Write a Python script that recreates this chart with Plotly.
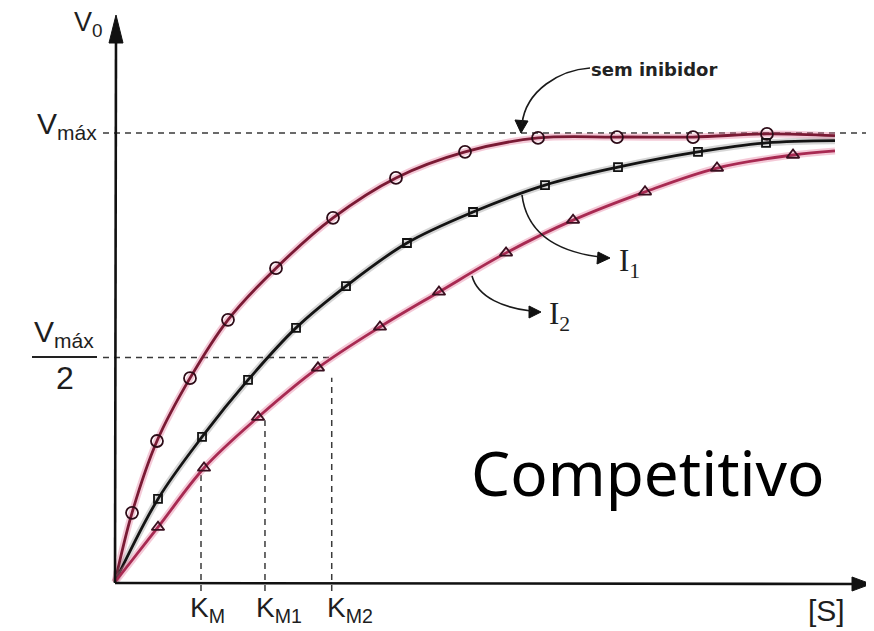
import plotly.graph_objects as go

# ---- data (substrate [S] in units of K_M, velocity in units of Vmax) ----
s_sem = [0.198, 0.488, 0.872, 1.314, 1.872, 2.535, 3.267, 4.070, 4.919, 5.837, 6.721, 7.581]
v_sem = [0.154, 0.314, 0.454, 0.584, 0.699, 0.811, 0.900, 0.958, 0.989, 0.991, 0.991, 0.998]

s_i1 = [0.500, 1.012, 1.547, 2.105, 2.686, 3.395, 4.163, 5.000, 5.849, 6.779, 7.570]
v_i1 = [0.185, 0.323, 0.450, 0.566, 0.659, 0.755, 0.824, 0.884, 0.924, 0.958, 0.978]

s_i2 = [0.500, 1.035, 1.663, 2.360, 3.081, 3.767, 4.547, 5.326, 6.163, 7.000, 7.884]
v_i2 = [0.122, 0.254, 0.367, 0.477, 0.568, 0.646, 0.733, 0.806, 0.869, 0.922, 0.951]

s_end = 8.372
v_end = [0.994, 0.983, 0.960]

km_values = [1.0, 1.744, 2.52]
km_labels = ["K<sub>M</sub>", "K<sub>M1</sub>", "K<sub>M2</sub>"]
km_tops = [0.25, 0.36, 0.455]
vmax = 1.0

# ---- layout helpers (page pixel -> data / paper); the page body has an 8px margin ----
PAGE = 8
W, H = 874 - PAGE, 631 - PAGE
LEFT, RIGHT, TOP, BOTTOM = 103, 874, 10, 595   # plot area edges in page pixels
OX, OY, SX, SY = 115, 582, 86, 449
def X(px):
    return (px - OX) / SX
def Y(py):
    return (OY - py) / SY
def PX(px):
    return (px - LEFT) / (RIGHT - LEFT)
def PY(py):
    return (BOTTOM - py) / (BOTTOM - TOP)

fig = go.Figure()

c_sem = "#7a1a34"
c_i1 = "#141414"
c_i2 = "#a82a52"
glow = "rgba(228,120,155,0.40)"

series = [
    (s_sem, v_sem, v_end[0], c_sem, glow, "circle-open", 12, "#2e0c18"),
    (s_i1, v_i1, v_end[1], c_i1, "rgba(90,90,90,0.25)", "square-open", 8, "#111111"),
    (s_i2, v_i2, v_end[2], c_i2, glow, "triangle-up-open", 11, "#3a1020"),
]
for s, v, ve, col, gcol, sym, msz, mcol in series:
    xs = [0] + s + [s_end]
    ys = [0] + v + [ve]
    fig.add_trace(go.Scatter(x=xs, y=ys, mode="lines", line=dict(color=gcol, width=7, shape="spline"),
                             hoverinfo="skip", showlegend=False))
    fig.add_trace(go.Scatter(x=xs, y=ys, mode="lines", line=dict(color=col, width=2.8, shape="spline"),
                             showlegend=False))
    fig.add_trace(go.Scatter(x=s, y=v, mode="markers",
                             marker=dict(symbol=sym, size=msz, color=mcol, line=dict(width=1.8, color=mcol)),
                             showlegend=False))

shapes = []
dash = dict(color="#3a3a3a", width=1.5, dash="6px,5px")
shapes.append(dict(type="line", xref="x", yref="y", x0=X(103), x1=X(874), y0=vmax, y1=vmax, line=dash, layer="below"))
shapes.append(dict(type="line", xref="x", yref="y", x0=X(103), x1=km_values[2], y0=vmax / 2, y1=vmax / 2, line=dash, layer="below"))
for k, top in zip(km_values, km_tops):
    shapes.append(dict(type="line", xref="x", yref="y", x0=k, x1=k, y0=Y(591), y1=top, line=dash, layer="below"))

# axes
axis_line = dict(color="#111", width=2.6)
shapes.append(dict(type="line", xref="x", yref="y", x0=0, x1=X(116), y0=Y(583), y1=Y(36), line=axis_line))
shapes.append(dict(type="line", xref="x", yref="y", x0=0, x1=X(856), y0=Y(583), y1=Y(584), line=axis_line))

def poly(*pts):
    return "M " + " L ".join("{},{}".format(X(a), Y(b)) for a, b in pts) + " Z"
head = dict(type="path", xref="x", yref="y", fillcolor="#111", line=dict(color="#111", width=1))
for pts in [((116, 15), (109, 43), (123, 43)),
            ((871, 584), (852, 577), (852, 591)),
            ((521, 133), (515, 120), (528, 121)),
            ((610, 258), (598, 252), (597, 264)),
            ((541, 312), (529, 306), (529, 318))]:
    shapes.append(dict(head, path=poly(*pts)))

# fraction bar
shapes.append(dict(type="line", xref="paper", yref="paper", x0=PX(32), x1=PX(97), y0=PY(357), y1=PY(357),
                   line=dict(color="#222", width=2.2)))
# curved pointer lines
def path(*pts):
    s = "M {},{} ".format(X(pts[0][0]), Y(pts[0][1]))
    s += "C " + " ".join("{},{}".format(X(a), Y(b)) for a, b in pts[1:])
    return s
arrow_line = dict(color="#1a1a1a", width=1.6)
shapes.append(dict(type="path", xref="x", yref="y", path=path((590, 68), (560, 70), (526, 90), (522, 124)), line=arrow_line))
shapes.append(dict(type="path", xref="x", yref="y", path=path((522, 195), (527, 235), (560, 252), (600, 257)), line=arrow_line))
shapes.append(dict(type="path", xref="x", yref="y", path=path((472, 276), (478, 298), (505, 308), (531, 311)), line=arrow_line))

ann = []
sans = "Liberation Sans"
def txt(t, px, py, size, family=sans, xanchor="center", yanchor="middle", color="#1e1e1e"):
    ann.append(dict(x=PX(px), y=PY(py), xref="paper", yref="paper", text=t, showarrow=False,
                    xanchor=xanchor, yanchor=yanchor, font=dict(family=family, size=size, color=color)))

txt("V<sub>0</sub>", 88, 24, 27)
txt("V<sub>máx</sub>", 99, 126, 30, xanchor="right")
txt("V<sub>máx</sub>", 64, 333, 30)
txt("2", 65, 378, 32)
for k, lab, px in zip(km_values, km_labels, [207, 279, 350]):
    txt(lab, px, 609, 28)
txt("[S]", 826, 610, 30)
txt("<b>sem inibidor</b>", 654, 70, 18, family="DejaVu Sans", color="#222")
txt("I<sub>1</sub>", 617, 263, 31, family="Liberation Serif", xanchor="left")
txt("I<sub>2</sub>", 547, 316, 31, family="Liberation Serif", xanchor="left")
txt("Competitivo", 648, 472, 62, family="Noto Sans", color="#000")

fig.update_layout(
    width=W, height=H,
    margin=dict(l=LEFT - PAGE, r=874 - RIGHT, t=TOP - PAGE, b=631 - BOTTOM),
    paper_bgcolor="white", plot_bgcolor="white",
    xaxis=dict(range=[X(LEFT), X(RIGHT)], showgrid=False, zeroline=False, showticklabels=False, showline=False, ticks=""),
    yaxis=dict(range=[Y(BOTTOM), Y(TOP)], showgrid=False, zeroline=False, showticklabels=False, showline=False, ticks=""),
    shapes=shapes, annotations=ann, showlegend=False,
)

fig.write_html("out.html")
